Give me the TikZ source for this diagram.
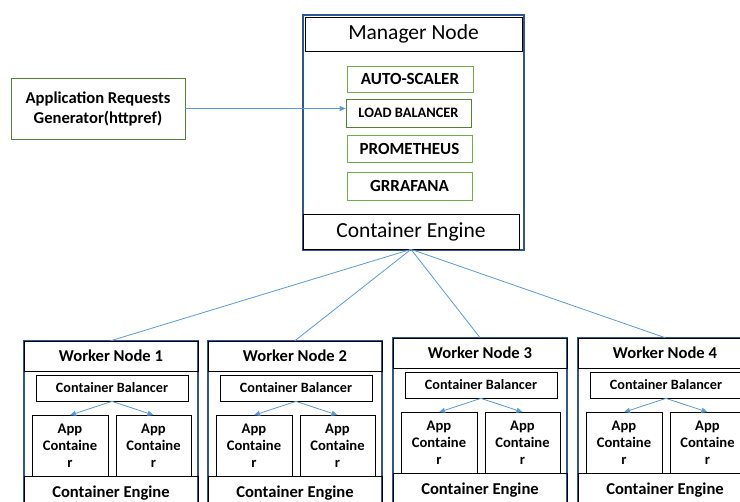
\documentclass[tikz,border=0pt]{standalone}
\usepackage{fontspec}
\setmainfont{Carlito}
\usetikzlibrary{arrows.meta}
\definecolor{linkblue}{HTML}{5B9BD5}
\definecolor{frameblue}{HTML}{2F5597}
\definecolor{boxgreen}{HTML}{70AD47}
\definecolor{darkgreen}{HTML}{548235}

\begin{document}
\begin{tikzpicture}[
    x=1pt,y=-1pt,
    frame/.style={draw=frameblue,line width=1.6pt},
    box/.style={draw=black,line width=0.7pt,inner sep=0pt,align=center},
    gbox/.style={box,draw=boxgreen,font=\fontsize{17}{19}\selectfont\bfseries},
    link/.style={linkblue,line width=0.8pt},
    tip/.style={link,-{Triangle[length=6pt,width=5pt]}}
    ]
    \clip (0,0) rectangle (740,502);
    \fill[white] (0,0) rectangle (740,502);

    % manager node
    \draw[frame] (303,15) rectangle (524,250);
    \node[box,minimum width=217,minimum height=34,font=\fontsize{21.5}{24}\selectfont] (mgr) at (413.5,34) {Manager Node};
    \node[gbox,minimum width=126,minimum height=26] (as) at (410,79) {AUTO-SCALER};
    \node[gbox,draw=darkgreen,minimum width=125,minimum height=28,font=\fontsize{14.4}{16}\selectfont\bfseries] (lb) at (408.5,113) {LOAD BALANCER};
    \node[gbox,minimum width=125,minimum height=27] (prom) at (409.5,148.5) {PROMETHEUS};
    \node[gbox,minimum width=125,minimum height=28] (graf) at (409.5,186) {GRRAFANA};
    \node[box,minimum width=216,minimum height=35,font=\fontsize{21.5}{24}\selectfont] (eng) at (411,231.5) {Container Engine};

    % request generator
    \node[box,draw=darkgreen,minimum width=174,minimum height=61,font=\fontsize{16.6}{20}\selectfont\bfseries] (gen) at (98,108.5) {Application Requests\\Generator(httpref)};
    \draw[tip] (gen.east) -- (lb.west |- gen.east);

    % worker nodes
    \foreach \i/\x/\y in {1/24/341,2/208/341,3/393/338,4/578/338} {
      \draw[frame] (\x,\y) rectangle ++(174,175);
      \node[box,minimum width=174,minimum height=30,font=\fontsize{16.6}{18}\selectfont\bfseries] (hd\i) at (\x+87,\y+15) {Worker Node \i};
      \node[box,minimum width=152,minimum height=26,font=\fontsize{14.2}{16}\selectfont\bfseries] (cb\i) at (\x+88,\y+47) {Container Balancer};
      \node[box,minimum width=76,minimum height=61,font=\fontsize{14.6}{17}\selectfont\bfseries] (a\i) at (\x+46,\y+105) {App\\Containe\\r};
      \node[box,minimum width=75,minimum height=61,font=\fontsize{14.6}{17}\selectfont\bfseries] (b\i) at (\x+129.5,\y+105) {App\\Containe\\r};
      \node[box,minimum width=174,minimum height=34,font=\fontsize{16.6}{18}\selectfont\bfseries] (ce\i) at (\x+87,\y+152) {Container Engine};
      \draw[tip] (cb\i.south) -- (a\i.north);
      \draw[tip] (cb\i.south) -- (b\i.north);
      \draw[link] (eng.south) -- (hd\i.north);
    }
\end{tikzpicture}
\end{document}
